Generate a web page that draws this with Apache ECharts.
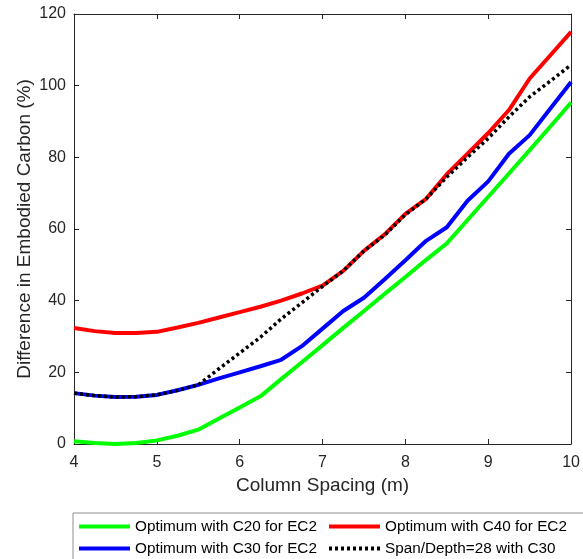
<!DOCTYPE html>
<html>
<head>
<meta charset="utf-8">
<script src="https://cdn.jsdelivr.net/npm/echarts@6/dist/echarts.min.js"></script>
<style>
html, body { margin: 0; padding: 0; background: #fff; }
#main { width: 583px; height: 559px; }
</style>
</head>
<body>
<div id="main"></div>
<script>
// column spacing (m)
var spacing = [4, 4.25, 4.5, 4.75, 5, 5.25, 5.5, 5.75, 6, 6.25, 6.5, 6.75, 7,
    7.25, 7.5, 7.75, 8, 8.25, 8.5, 8.75, 9, 9.25, 9.5, 9.75, 10];
var c20 = [0.8, 0.3, 0.0, 0.3, 1.0, 2.3, 4.0, 7.1, 10.2, 13.3, 18.1, 22.8, 27.6,
    32.4, 37.1, 41.9, 46.6, 51.4, 56.0, 62.5, 69.0, 75.5, 82.0, 88.6, 95.3];
var c30 = [14.2, 13.5, 13.1, 13.2, 13.7, 15.0, 16.5, 18.3, 20.0, 21.7, 23.5, 27.3, 32.2,
    37.1, 40.8, 46.0, 51.3, 56.7, 60.5, 67.9, 73.3, 81.0, 86.2, 93.6, 101.0];
var c40 = [32.4, 31.5, 31.0, 31.0, 31.3, 32.5, 33.8, 35.3, 36.8, 38.3, 40.0, 42.0, 44.2,
    48.3, 53.9, 58.5, 64.2, 68.4, 75.3, 81.0, 86.8, 93.2, 102.0, 108.5, 115.0];
var sd28 = [14.2, 13.5, 13.1, 13.2, 13.7, 15.0, 16.5, 21.0, 25.4, 29.8, 34.9, 39.4, 44.0,
    48.3, 53.9, 58.3, 64.0, 68.4, 74.5, 80.0, 85.3, 91.3, 96.9, 101.3, 105.8];

function pairs(ys) {
    var out = [];
    for (var i = 0; i < spacing.length; i++) {
        out.push([spacing[i], ys[i]]);
    }
    return out;
}

var axisColor = '#262626';
var font = 'Liberation Sans, Arial, Helvetica, sans-serif';

var myChart = echarts.init(document.getElementById('main'));

function mkLine(name, color, data, dashed) {
    return {
        name: name,
        type: 'line',
        data: pairs(data),
        showSymbol: false,
        symbol: 'none',
        animation: false,
        lineStyle: {
            color: color,
            width: dashed ? 3.5 : 4,
            type: dashed ? [3, 3] : 'solid',
            cap: 'butt'
        },
        itemStyle: { color: color }
    };
}

var legendBase = {
    orient: 'vertical',
    top: 519,
    padding: 0,
    itemWidth: 51, itemHeight: 14, itemGap: 7,
    itemStyle: { opacity: 0 },
    lineStyle: { width: 4 },
    textStyle: { color: '#000', fontSize: 15.3, fontFamily: font },
    z: 5
};

var option = {
    animation: false,
    backgroundColor: '#fff',
    grid: { left: 74, top: 14, right: 10, bottom: 115, containLabel: false },
    xAxis: [{
        type: 'value',
        min: 4, max: 10, interval: 1,
        name: 'Column Spacing (m)',
        nameLocation: 'middle',
        nameGap: 32,
        nameTextStyle: { color: axisColor, fontSize: 19, fontFamily: font },
        axisLine: { onZero: false, lineStyle: { color: axisColor, width: 1 } },
        axisTick: { inside: true, length: 5, lineStyle: { color: axisColor } },
        axisLabel: { color: axisColor, fontSize: 16, fontFamily: font, margin: 11 },
        splitLine: { show: false }
    }, {
        type: 'value', position: 'top',
        min: 4, max: 10, interval: 1,
        axisLine: { show: true, onZero: false, lineStyle: { color: axisColor, width: 1 } },
        axisTick: { inside: true, length: 5, lineStyle: { color: axisColor } },
        axisLabel: { show: false },
        splitLine: { show: false }
    }],
    yAxis: [{
        type: 'value',
        min: 0, max: 120, interval: 20,
        name: 'Difference in Embodied Carbon (%)',
        nameLocation: 'middle',
        nameGap: 40,
        nameMoveOverlap: false,
        nameTextStyle: { color: axisColor, fontSize: 19, fontFamily: font },
        axisLine: { show: true, onZero: false, lineStyle: { color: axisColor, width: 1 } },
        axisTick: { show: true, inside: true, length: 5, lineStyle: { color: axisColor } },
        axisLabel: { color: axisColor, fontSize: 16, fontFamily: font, margin: 8 },
        splitLine: { show: false }
    }, {
        type: 'value', position: 'right',
        min: 0, max: 120, interval: 20,
        axisLine: { show: true, onZero: false, lineStyle: { color: axisColor, width: 1 } },
        axisTick: { show: true, inside: true, length: 5, lineStyle: { color: axisColor } },
        axisLabel: { show: false },
        splitLine: { show: false }
    }],
    graphic: [{
        type: 'rect',
        shape: { x: 73, y: 513, width: 530, height: 60 },
        style: { fill: '#fff', stroke: '#8f8f8f', lineWidth: 1 },
        z: 1
    }],
    legend: [
        Object.assign({}, legendBase, {
            data: ['Optimum with C20 for EC2', 'Optimum with C30 for EC2'],
            left: 77
        }),
        Object.assign({}, legendBase, {
            data: ['Optimum with C40 for EC2', 'Span/Depth=28 with C30'],
            left: 327
        })
    ],
    series: [
        mkLine('Optimum with C20 for EC2', '#00ff00', c20, false),
        mkLine('Optimum with C40 for EC2', '#ff0000', c40, false),
        mkLine('Optimum with C30 for EC2', '#0000ff', c30, false),
        mkLine('Span/Depth=28 with C30', '#000000', sd28, true)
    ]
};

myChart.setOption(option);
</script>
</body>
</html>
